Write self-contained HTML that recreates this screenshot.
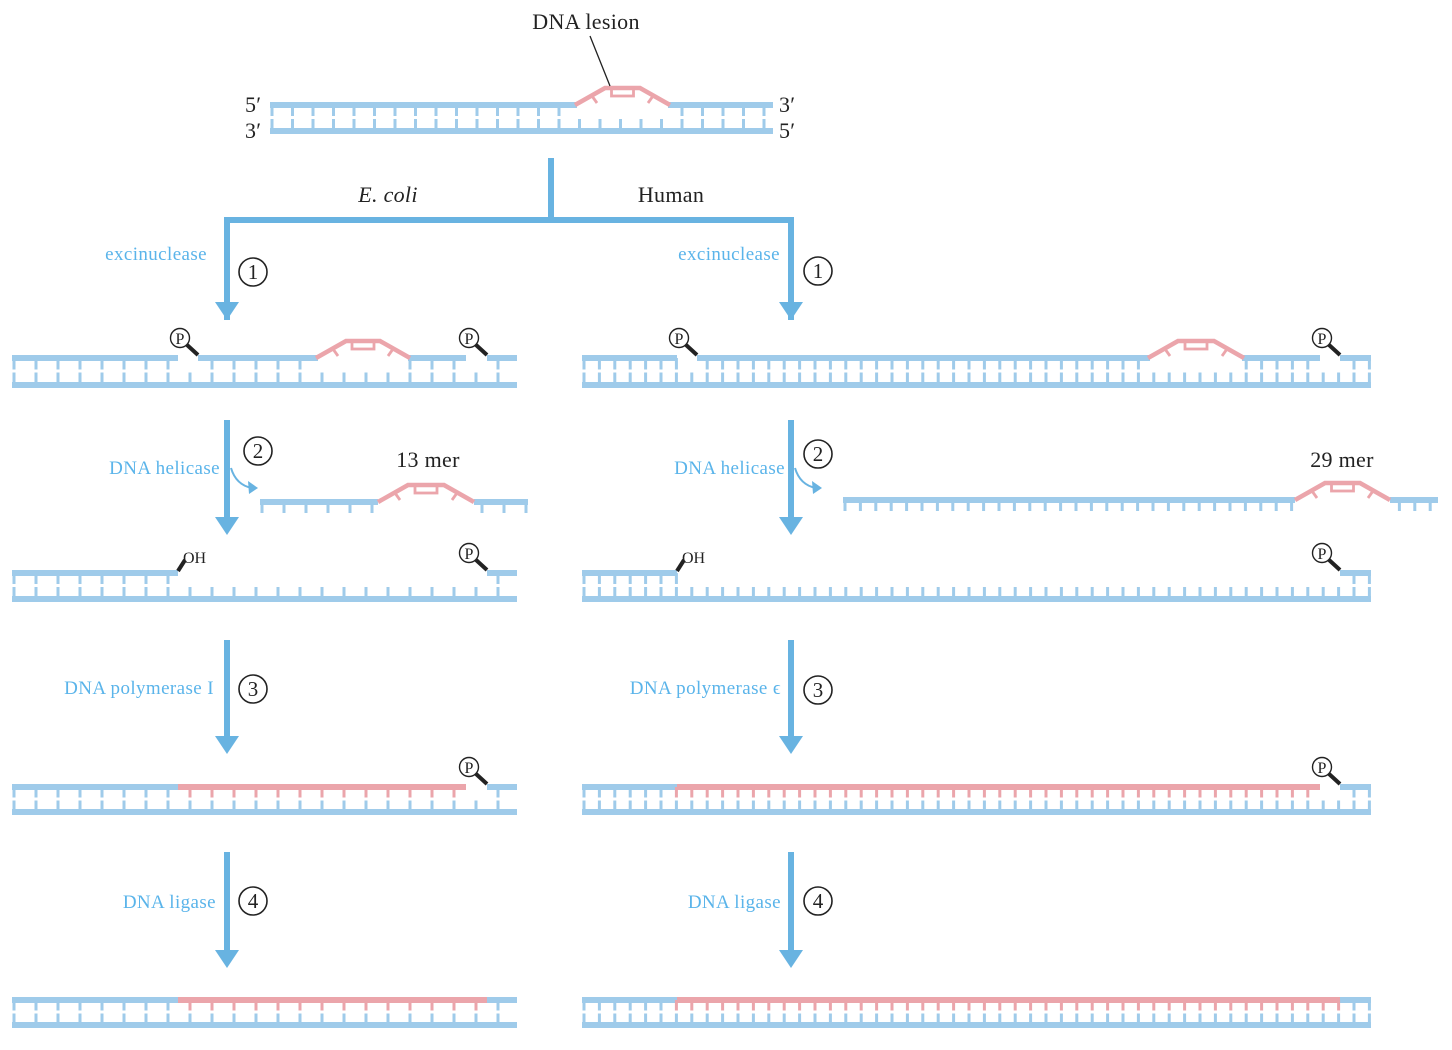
<!DOCTYPE html>
<html><head><meta charset="utf-8">
<style>
html,body{margin:0;padding:0;background:#fff;}
svg{display:block;}
text{font-family:"Liberation Serif",serif;}
.lbl{fill:#5ab4ea;font-size:19px;letter-spacing:0.4px;}
.blk{fill:#222;font-size:22px;letter-spacing:0.3px;}
</style></head>
<body>
<svg id="s" width="1452" height="1050" viewBox="0 0 1452 1050">
<g id="g"></g>
<text class="blk" x="586" y="29" text-anchor="middle">DNA lesion</text>
<line x1="590" y1="36" x2="610" y2="86" stroke="#222" stroke-width="1.3"/>
<text class="blk" x="245" y="112">5′</text>
<text class="blk" x="245" y="138">3′</text>
<text class="blk" x="779" y="112">3′</text>
<text class="blk" x="779" y="138">5′</text>
<text class="blk" x="388" y="202" text-anchor="middle" font-style="italic">E. coli</text>
<text class="blk" x="671" y="202" text-anchor="middle">Human</text>
<text class="blk" x="428" y="467" text-anchor="middle">13 mer</text>
<text class="blk" x="1342" y="467" text-anchor="middle">29 mer</text>
<text class="lbl" x="207" y="260" text-anchor="end">excinuclease</text>
<text class="lbl" x="780" y="260" text-anchor="end">excinuclease</text>
<text class="lbl" x="220" y="474" text-anchor="end">DNA helicase</text>
<text class="lbl" x="785" y="474" text-anchor="end">DNA helicase</text>
<text class="lbl" x="214" y="694" text-anchor="end">DNA polymerase I</text>
<text class="lbl" x="781" y="694" text-anchor="end">DNA polymerase ϵ</text>
<text class="lbl" x="216" y="908" text-anchor="end">DNA ligase</text>
<text class="lbl" x="781" y="908" text-anchor="end">DNA ligase</text>
</svg>
<script>
const NS='http://www.w3.org/2000/svg';
const g=document.getElementById('g');
const B='#9fcbea',P='#eba5ab',A='#68b3e1';
function el(t,a,name){const e=document.createElementNS(NS,t);for(const k in a)e.setAttribute(k,a[k]);


g.appendChild(e);return e;}
function line(x1,y1,x2,y2,c,w,n){return el('line',{x1,y1,x2,y2,stroke:c,'stroke-width':w},n||'strand');}
function bump(a,b,y){
  const h=17;
  el('polyline',{points:`${a},${y} ${a+30},${y-h} ${b-30},${y-h} ${b},${y}`,fill:'none',stroke:P,'stroke-width':4.5},'lesion-bump');
  const m=(a+b)/2;
  el('rect',{x:m-11,y:y-h,width:22,height:8,fill:'none',stroke:P,'stroke-width':2.8},'thymine-dimer');
  line(a+17,y-9,a+22,y-2,P,2.8,'lesion-tick');line(b-17,y-9,b-22,y-2,P,2.8,'lesion-tick');
}
function duplex(x0,x1,yt,yb,step,segs,lesion){
  line(x0,yb,x1,yb,B,6,'bottom-strand');
  for(const s of segs) line(s[0],yt,s[1],yt,s[2],6,'top-strand');
  for(let x=x0+2;x<=x1-1;x+=step){
    const mid=(yt+yb)/2;
    line(x,yb,x,mid+1,B,3,'base-pair-lower');
    let c=null;
    for(const s of segs) if(x>=s[0]-1&&x<=s[1]+1) c=s[2];
    if(lesion&&x>lesion[0]&&x<lesion[1]) c=null;
    if(c) line(x,yt,x,mid-2,c,3,'base-pair-upper');
  }
  if(lesion) bump(lesion[0],lesion[1],yt);
}
function single(x0,x1,y,step,lesion){
  line(x0,y,lesion[0],y,B,6,'fragment-strand');line(lesion[1],y,x1,y,B,6,'fragment-strand');
  for(let x=x0+2;x<=x1;x+=step){ if(x>lesion[0]&&x<lesion[1])continue; line(x,y,x,y+11,B,3,'fragment-base');}
  bump(lesion[0],lesion[1],y);
}
function phos(x,y){
  line(x,y-3,x-12,y-14,'#222',4,'phosphate-bond');
  el('circle',{cx:x-18,cy:y-20,r:9.5,fill:'#fff',stroke:'#222','stroke-width':1.4},'phosphate-circle');
  const t=el('text',{x:x-18,y:y-14,'text-anchor':'middle','font-size':16,fill:'#222'},'phosphate-label');t.textContent='P';
}
function oh(x,y){line(x,y-2,x+7,y-13,'#222',4,'hydroxyl-bond');const t=el('text',{x:x+5,y:y-10,'font-size':16,fill:'#222'},'hydroxyl-label');t.textContent='OH';}
function arrow(x,y0,y1,n){line(x,y0,x,y1-14,A,6,n);el('polygon',{points:`${x-12},${y1-18} ${x+12},${y1-18} ${x},${y1}`,fill:A},n+'-head');}
function num(x,y,n){el('circle',{cx:x,cy:y,r:14,fill:'#fff',stroke:'#222','stroke-width':1.6},'step-circle');const t=el('text',{x:x,y:y+7,'text-anchor':'middle','font-size':21,fill:'#222'},'step-number');t.textContent=n;}
duplex(270,773,105,131,20.5,[[270,577,B],[668,773,B]],[575,670]);
line(551,158,551,220,A,6,'branch-stem');
el('polyline',{points:'227,320 227,220 791,220 791,320',fill:'none',stroke:A,'stroke-width':6},'branch-arrows');
el('polygon',{points:'215,302 239,302 227,320',fill:A},'arrow-head');
el('polygon',{points:'779,302 803,302 791,320',fill:A},'arrow-head');
duplex(12,517,358,385,22,[[12,178,B],[198,318,B],[408,466,B],[487,517,B]],[316,410]);
phos(198,358);phos(487,358);
duplex(582,1371,358,385,15.4,[[582,677,B],[697,1150,B],[1242,1320,B],[1340,1371,B]],[1148,1244]);
phos(697,358);phos(1340,358);
single(260,528,502,22,[378,474]);
single(843,1438,500,15.4,[1295,1390]);
el('path',{d:'M231,468 Q236,485 252,488',fill:'none',stroke:A,'stroke-width':2},'helicase-curve');
el('polygon',{points:'258,488 248,481 249,494',fill:A},'helicase-head');
el('path',{d:'M795,468 Q800,485 816,488',fill:'none',stroke:A,'stroke-width':2},'helicase-curve');
el('polygon',{points:'822,488 812,481 813,494',fill:A},'helicase-head');
duplex(12,517,573,599,22,[[12,178,B],[487,517,B]],null);oh(178,573);phos(487,573);
duplex(582,1371,573,599,15.4,[[582,677,B],[1340,1371,B]],null);oh(677,573);phos(1340,573);
duplex(12,517,787,812,22,[[12,178,B],[178,466,P],[487,517,B]],null);phos(487,787);
duplex(582,1371,787,812,15.4,[[582,677,B],[677,1320,P],[1340,1371,B]],null);phos(1340,787);
duplex(12,517,1000,1025,22,[[12,178,B],[178,487,P],[487,517,B]],null);
duplex(582,1371,1000,1025,15.4,[[582,677,B],[677,1340,P],[1340,1371,B]],null);
arrow(227,420,535,'step-2-arrow');arrow(791,420,535,'step-2-arrow');
arrow(227,640,754,'step-3-arrow');arrow(791,640,754,'step-3-arrow');
arrow(227,852,968,'step-4-arrow');arrow(791,852,968,'step-4-arrow');
num(253,272,'1');num(818,271,'1');num(258,451,'2');num(818,454,'2');
num(253,689,'3');num(818,690,'3');num(253,901,'4');num(818,901,'4');
</script>
</body></html>
